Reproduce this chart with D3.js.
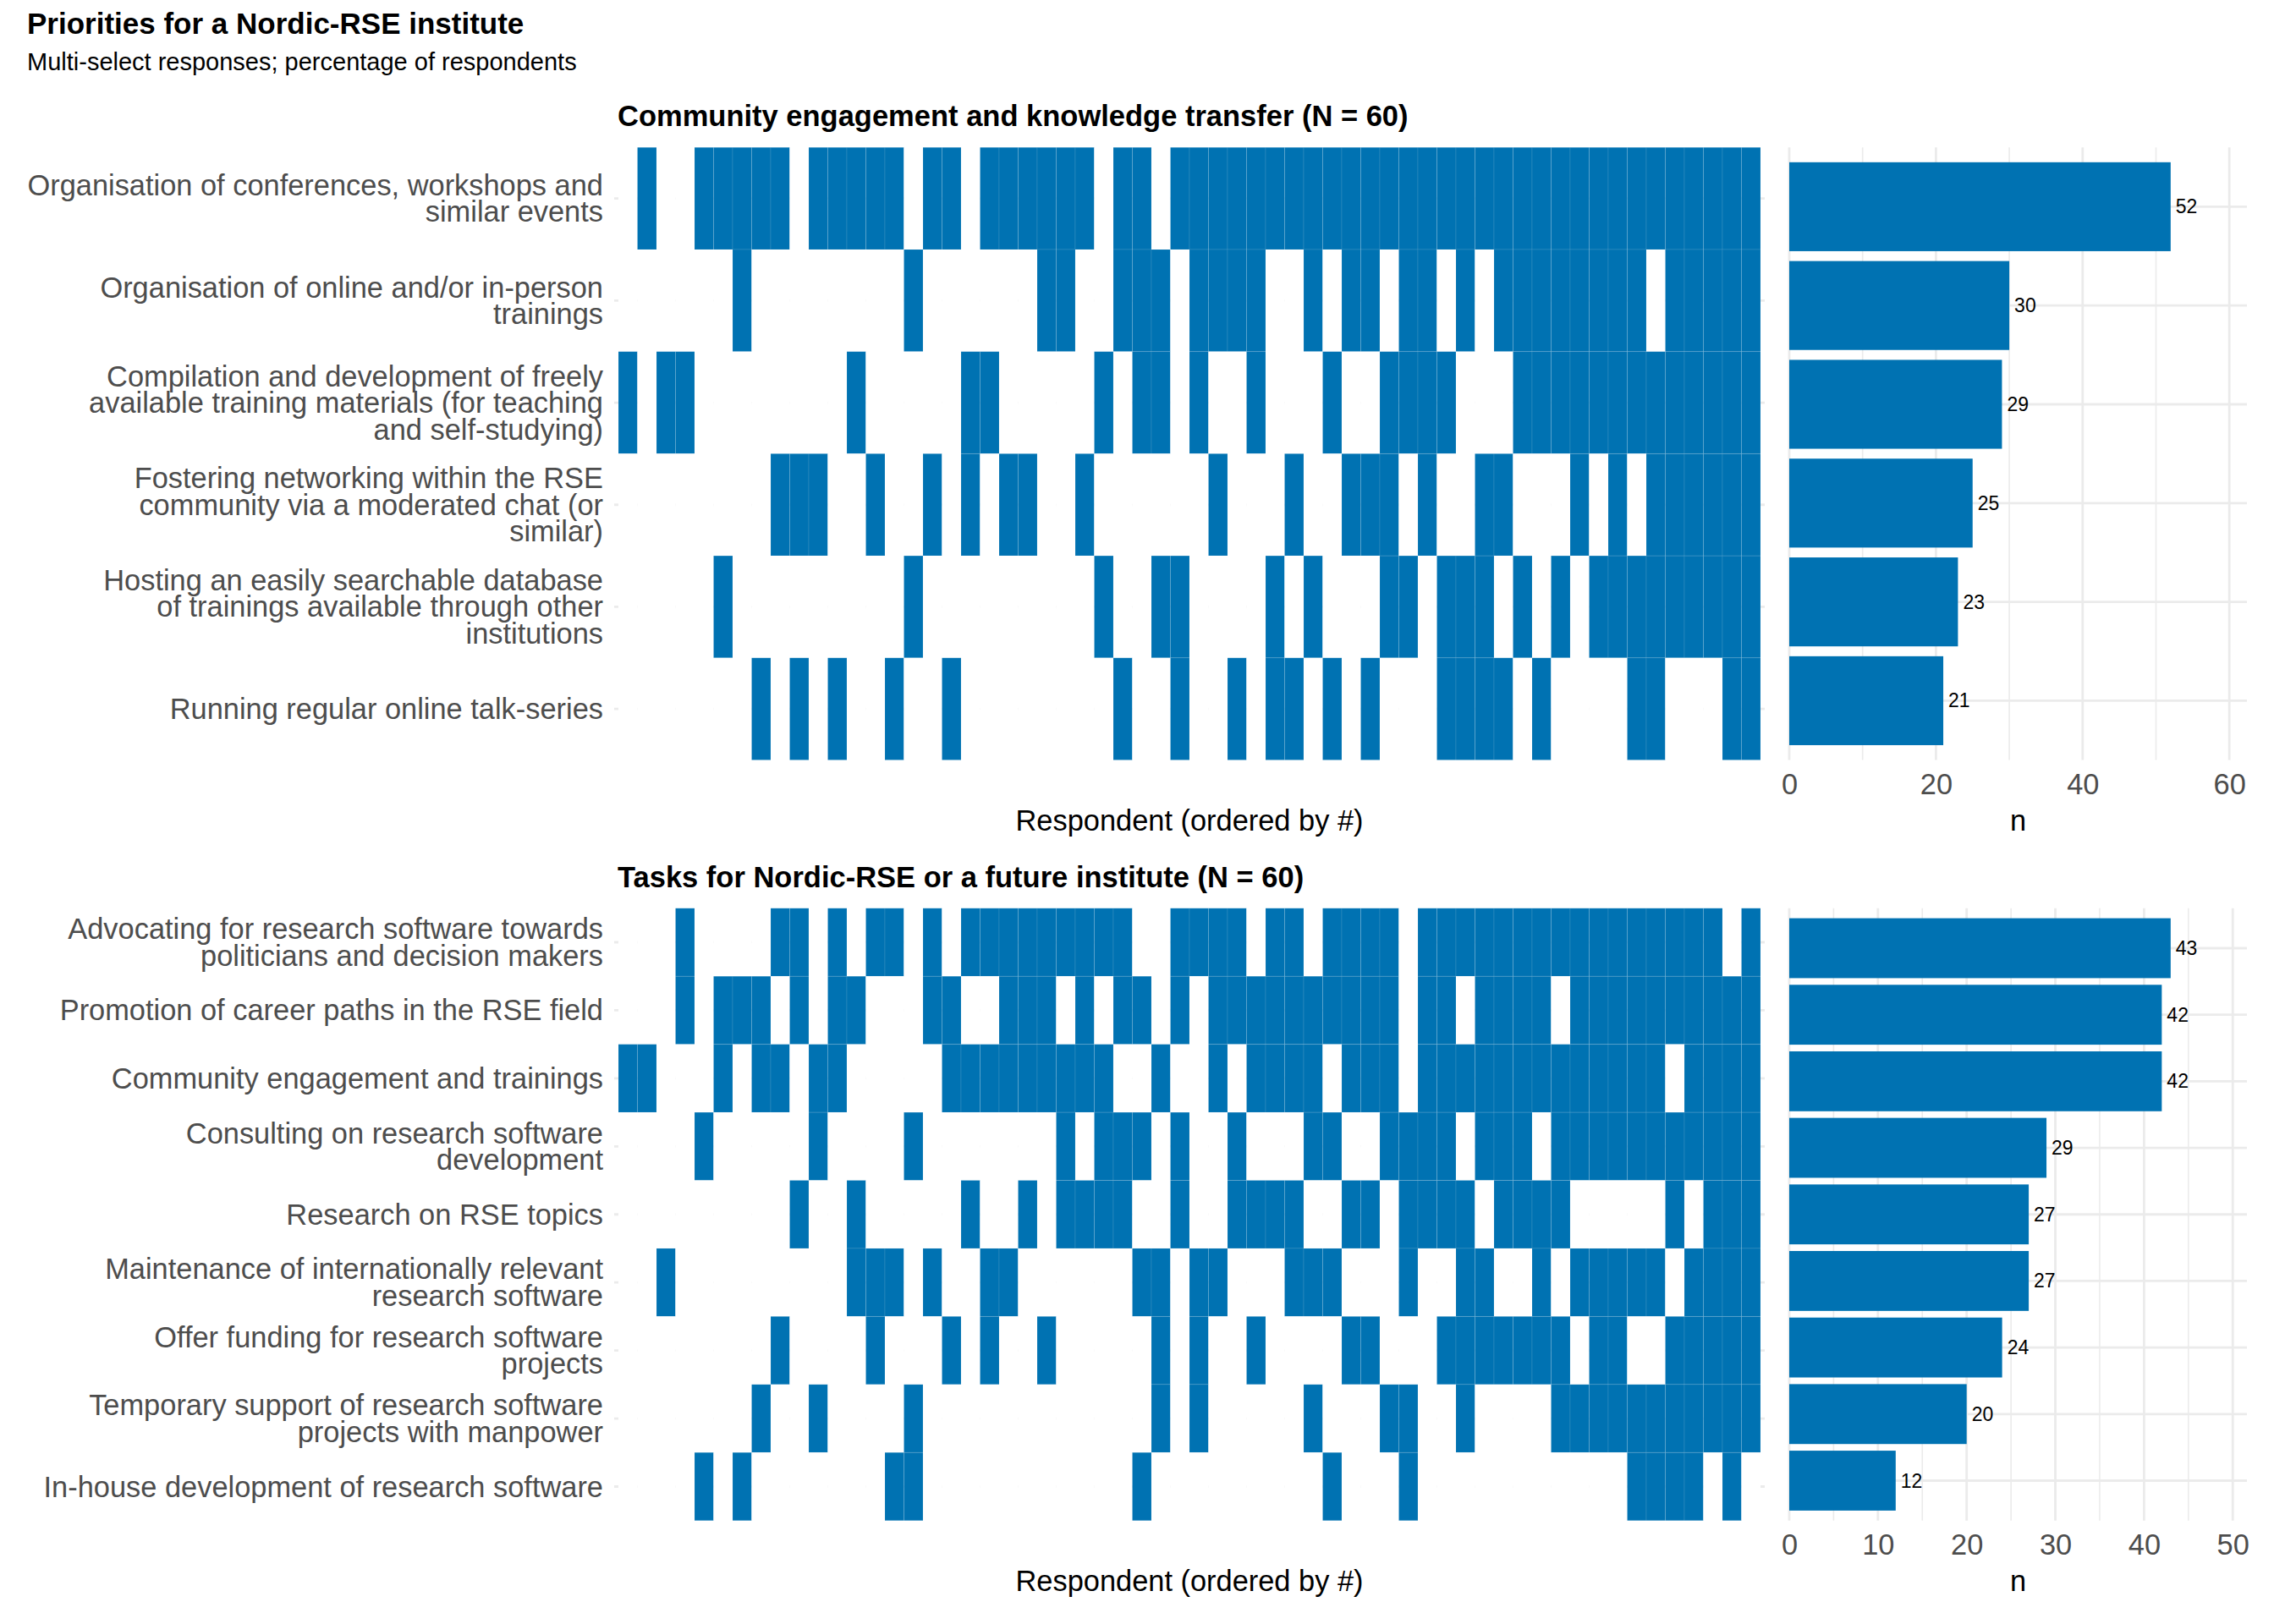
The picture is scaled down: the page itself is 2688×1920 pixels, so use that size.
<!DOCTYPE html>
<html>
<head>
<meta charset="utf-8">
<title>Priorities for a Nordic-RSE institute</title>
<style>
  body { margin: 0; background: #fff; }
  svg text { font-family: "Liberation Sans", Arial, sans-serif; }
  .ylab text { fill: #4d4d4d; font-size: 34.4px; }
  .xaxis text { fill: #4d4d4d; font-size: 34.4px; }
  .axis-title { fill: #000; font-size: 34.4px; }
  .panel-title { fill: #000; font-size: 34.5px; font-weight: bold; }
  .bar-label { fill: #000; font-size: 23px; }
</style>
<script src="https://d3js.org/d3.v7.min.js"></script>
</head>
<body>
<script>
// ---- data ----
const respondents = d3.range(1, 61);

const engageItems = [
  "Organisation of conferences, workshops and\nsimilar events",
  "Organisation of online and/or in-person\ntrainings",
  "Compilation and development of freely\navailable training materials (for teaching\nand self-studying)",
  "Fostering networking within the RSE\ncommunity via a moderated chat (or\nsimilar)",
  "Hosting an easily searchable database\nof trainings available through other\ninstitutions",
  "Running regular online talk-series"
];
// respondents 1-60 in blocks of ten, 1 = option selected
const engageSelected = [
  ["0100111110", "1111101101", "1111101101", "1111111111", "1111111111", "1111111111"],
  ["0000001000", "0000010000", "0011001110", "1111001011", "0110101111", "1111011111"],
  ["1011000000", "0010000011", "0000010110", "1001000100", "1111000111", "1111111111"],
  ["0000000011", "1001001010", "1100100000", "0100010011", "1010011000", "1010111111"],
  ["0000010000", "0000010000", "0000010011", "0000101000", "1101110101", "0111111111"],
  ["0000000101", "0100100100", "0000001001", "0010110101", "0001111010", "0001100011"]
];
const engageCounts = [52, 30, 29, 25, 23, 21];
const engageTicks = [0, 20, 40, 60];

const taskItems = [
  "Advocating for research software towards\npoliticians and decision makers",
  "Promotion of career paths in the RSE field",
  "Community engagement and trainings",
  "Consulting on research software\ndevelopment",
  "Research on RSE topics",
  "Maintenance of internationally relevant\nresearch software",
  "Offer funding for research software\nprojects",
  "Temporary support of research software\nprojects with manpower",
  "In-house development of research software"
];
const taskSelected = [
  ["0001000011", "0101101011", "1111111001", "1110110111", "1011111111", "1111111101"],
  ["0001011101", "0110001100", "1110101101", "0111111111", "1011011110", "1111111111"],
  ["1100010110", "1100000111", "1111110010", "0101111011", "1011111111", "1111101111"],
  ["0000100000", "1000010000", "0001011101", "0010001100", "1111011101", "1111111111"],
  ["0000000001", "0010000010", "0101111001", "0011110011", "0111101111", "0000010111"],
  ["0010000000", "0011101001", "1000000110", "1100011100", "0100110010", "1111101111"],
  ["0000000010", "0001000101", "0010000010", "1001000011", "0001111111", "0110011111"],
  ["0000000100", "1000010000", "0000000010", "1000001000", "1100100001", "1111111111"],
  ["0000101000", "0000110000", "0000000100", "0000000100", "0100000000", "0001111010"]
];
const taskCounts = [43, 42, 42, 29, 27, 27, 24, 20, 12];
const taskTicks = [0, 10, 20, 30, 40, 50];

// ---- layout ----
const W = 2688, H = 1920;
const blue = "#0072B2";
const gridCol = "#ebebeb";
const heatX = [731, 2081];
const barX0 = 2115, barX1 = 2656;

const svg = d3.select("body").append("svg")
  .attr("width", W).attr("height", H);

svg.append("text").attr("x", 32).attr("y", 40)
  .style("font-size", "35px").style("font-weight", "bold")
  .text("Priorities for a Nordic-RSE institute");
svg.append("text").attr("x", 32).attr("y", 83)
  .style("font-size", "29px")
  .text("Multi-select responses; percentage of respondents");

function drawPanel(p) {
  const g = svg.append("g");

  const x = d3.scaleBand().domain(respondents).range(heatX);
  const y = d3.scaleBand().domain(p.items).range([p.top, p.bottom]);
  // bar panel: discrete axis with 0.6 unit expansion
  const yb = d3.scalePoint().domain(p.items).range([p.top, p.bottom]).padding(0.6);
  const xn = d3.scaleLinear()
    .domain([0, d3.max(p.counts) * 1.2])
    .range([barX0, barX1]);

  // panel title
  g.append("text").attr("class", "panel-title")
    .attr("x", heatX[0] - 1).attr("y", p.top - 25)
    .text(p.title);

  // heatmap row gridlines (mostly hidden by tiles)
  g.append("g").selectAll("line").data(p.items).join("line")
    .attr("x1", heatX[0] - 5).attr("x2", heatX[1] + 5)
    .attr("y1", d => y(d) + y.bandwidth() / 2)
    .attr("y2", d => y(d) + y.bandwidth() / 2)
    .attr("stroke", gridCol).attr("stroke-width", 2.8);

  // tiles
  const cells = [];
  p.items.forEach((item, i) => {
    const row = p.selected[i].join("");
    respondents.forEach((r, j) => {
      cells.push({ item: item, resp: r, on: row[j] === "1" });
    });
  });
  g.append("g").selectAll("rect").data(cells).join("rect")
    .attr("x", d => x(d.resp))
    .attr("y", d => y(d.item))
    .attr("width", x.bandwidth())
    .attr("height", y.bandwidth())
    .attr("fill", d => d.on ? blue : "#fff")
    .attr("stroke", d => d.on ? "rgba(255,255,255,0.1)" : "none")
    .attr("stroke-width", 1);

  // y labels (multi-line)
  const yAxis = g.append("g").attr("class", "ylab")
    .attr("transform", "translate(" + (heatX[0] - 18) + ",0)")
    .call(d3.axisLeft(y).tickSize(0).tickPadding(0));
  yAxis.select(".domain").remove();
  const lh = 31.5;
  yAxis.selectAll(".tick text").each(function(d) {
    const lines = d.split("\n");
    const t = d3.select(this).text(null).attr("dy", null)
      .attr("text-anchor", "end");
    lines.forEach((ln, k) => {
      t.append("tspan").attr("x", 0)
        .attr("y", (k - (lines.length - 1) / 2) * lh)
        .attr("dy", "0.35em")
        .text(ln);
    });
  });

  // x axis title for heatmap
  g.append("text").attr("class", "axis-title")
    .attr("x", (heatX[0] + heatX[1]) / 2).attr("y", p.bottom + 83)
    .attr("text-anchor", "middle")
    .text("Respondent (ordered by #)");

  // bar panel grid
  const majors = p.ticks;
  const minors = majors.slice(1).map((t, i) => (t + majors[i]) / 2)
    .concat([majors[majors.length - 1] + (majors[1] - majors[0]) / 2])
    .filter(v => v <= xn.domain()[1]);
  g.append("g").selectAll("line").data(minors).join("line")
    .attr("x1", d => xn(d)).attr("x2", d => xn(d))
    .attr("y1", p.top).attr("y2", p.bottom)
    .attr("stroke", gridCol).attr("stroke-width", 1.6);
  g.append("g").selectAll("line").data(majors).join("line")
    .attr("x1", d => xn(d)).attr("x2", d => xn(d))
    .attr("y1", p.top).attr("y2", p.bottom)
    .attr("stroke", gridCol).attr("stroke-width", 2.8);
  g.append("g").selectAll("line").data(p.items).join("line")
    .attr("x1", barX0).attr("x2", barX1)
    .attr("y1", d => yb(d)).attr("y2", d => yb(d))
    .attr("stroke", gridCol).attr("stroke-width", 2.8);

  // bars
  const bw = yb.step() * 0.9;
  g.append("g").selectAll("rect").data(p.items).join("rect")
    .attr("x", xn(0))
    .attr("y", d => yb(d) - bw / 2)
    .attr("width", (d, i) => xn(p.counts[i]) - xn(0))
    .attr("height", bw)
    .attr("fill", blue);

  g.append("g").selectAll("text").data(p.items).join("text")
    .attr("class", "bar-label")
    .attr("x", (d, i) => xn(p.counts[i]) + 6)
    .attr("y", d => yb(d))
    .attr("dy", "0.35em")
    .text((d, i) => p.counts[i]);

  // bar x axis
  const xAxis = g.append("g").attr("class", "xaxis")
    .attr("transform", "translate(0," + p.bottom + ")")
    .call(d3.axisBottom(xn).tickValues(majors).tickSize(0).tickPadding(16));
  xAxis.select(".domain").remove();

  g.append("text").attr("class", "axis-title")
    .attr("x", (barX0 + barX1) / 2).attr("y", p.bottom + 83)
    .attr("text-anchor", "middle")
    .text("n");
}

drawPanel({
  title: "Community engagement and knowledge transfer (N = 60)",
  items: engageItems, selected: engageSelected, counts: engageCounts,
  ticks: engageTicks, top: 174.3, bottom: 898.5
});
drawPanel({
  title: "Tasks for Nordic-RSE or a future institute (N = 60)",
  items: taskItems, selected: taskSelected, counts: taskCounts,
  ticks: taskTicks, top: 1073.8, bottom: 1797.7
});
</script>
</body>
</html>
